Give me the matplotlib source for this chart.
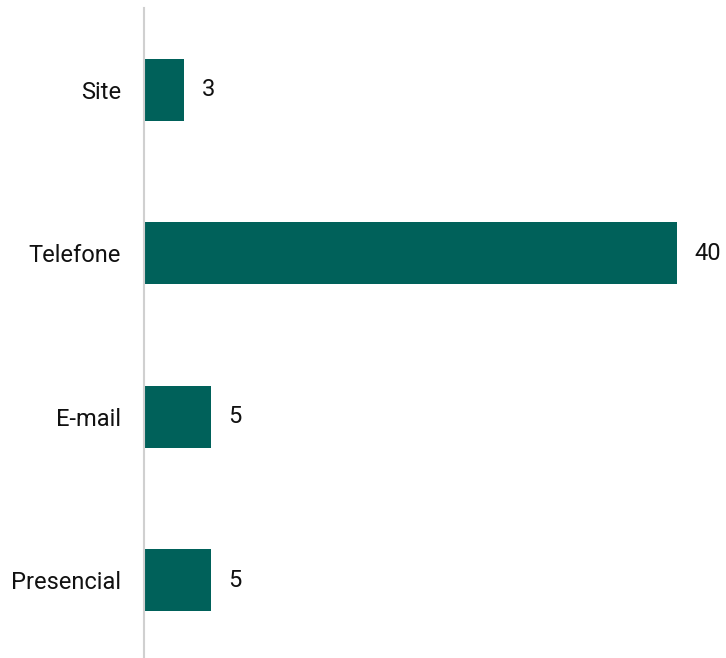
import matplotlib.pyplot as plt

# Data
categories = ['Site', 'Telefone', 'E-mail', 'Presencial']
values = [3, 40, 5, 5]

plt.rcParams['font.family'] = ['Roboto', 'DejaVu Sans']

fig = plt.figure(figsize=(7.26, 6.58), dpi=100)
ax = fig.add_axes([0.199, -0.006, 0.734, 0.994])

pos = list(range(len(categories)))
ax.barh(pos, values, height=0.378, color='#00615a')

for p, v in zip(pos, values):
    ax.text(v + 1.3, p, str(v), va='center', ha='left', fontsize=17, color='#111111')

ax.set_yticks(pos)
ax.set_yticklabels(categories, fontsize=17, color='#111111')
ax.tick_params(axis='y', length=0, pad=17)
ax.set_xlim(0, 40)
ax.set_ylim(3.5, -0.5)
ax.set_xticks([])

for s in ['top', 'right', 'bottom']:
    ax.spines[s].set_visible(False)
ax.spines['left'].set_color('#d0d0d0')
ax.spines['left'].set_linewidth(1.5)

fig.savefig('out.png', dpi=100)
